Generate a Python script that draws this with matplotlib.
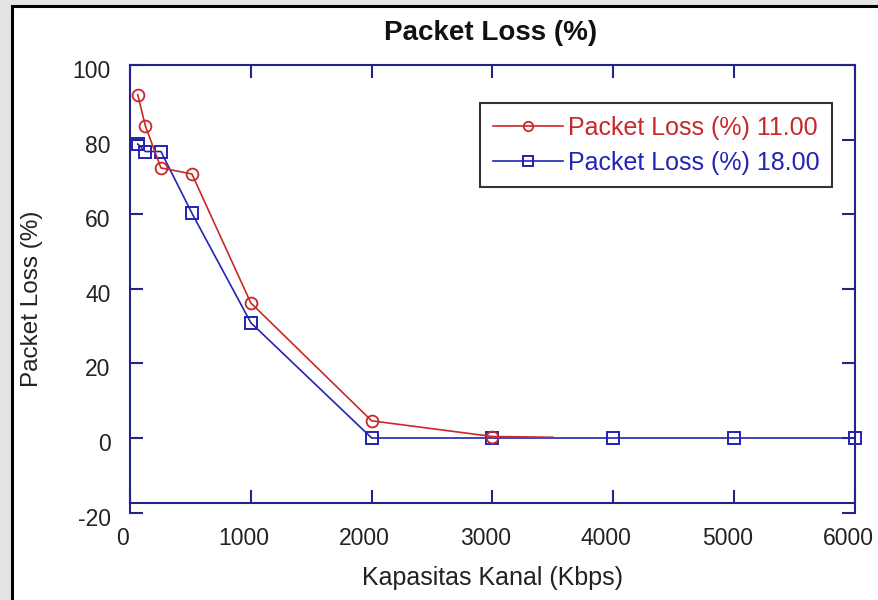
import matplotlib
matplotlib.use("Agg")
import matplotlib.pyplot as plt
from matplotlib.patches import Rectangle
from matplotlib.transforms import ScaledTranslation

plt.rcParams['font.family'] = ['Liberation Sans', 'DejaVu Sans']
plt.rcParams['axes.unicode_minus'] = False

# data
kbps_11 = [64, 128, 256, 512, 1000, 2000, 3000, 3500]
loss_11 = [92.0, 83.6, 72.4, 70.8, 36.2, 4.6, 0.4, 0.2]
kbps_18 = [64, 128, 256, 512, 1000, 2000, 3000, 4000, 5000, 6000]
loss_18 = [78.8, 76.8, 76.8, 60.3, 30.9, 0.0, 0.0, 0.0, 0.0, 0.0]
x_ticks = [0, 1000, 2000, 3000, 4000, 5000, 6000]
y_ticks = [-20, 0, 20, 40, 60, 80, 100]

navy = '#23238c'
red = '#c82828'
blue = '#2323b4'

fig = plt.figure(figsize=(8.79, 6.0), dpi=100)
fig.patch.set_facecolor('#e4e4e4')
fig.patches.append(Rectangle((12 / 879, -0.1), 1.2, 1.1 - 6 / 600,
                             transform=fig.transFigure, facecolor='white',
                             edgecolor='black', lw=2.2, zorder=-5))

ax = fig.add_axes([130 / 879, (600 - 512.6) / 600, 725 / 879, 447.6 / 600])
ax.set_facecolor('white')

ax.plot(kbps_11, loss_11, color=red, lw=1.2, marker='o', ms=8.5,
        mfc='none', mec=red, mew=1.3, markevery=list(range(7)),
        label='Packet Loss (%) 11.00', clip_on=False, zorder=3)
ax.plot(kbps_18, loss_18, color=blue, lw=1.2, marker='s', ms=8.5,
        mfc='none', mec=blue, mew=1.4,
        label='Packet Loss (%) 18.00', clip_on=False, zorder=2)

ax.set_xlim(0, 6000)
ax.set_ylim(-20, 100)
ax.set_xticks(x_ticks)
ax.set_yticks(y_ticks)

for s in ax.spines.values():
    s.set_color(navy)
    s.set_linewidth(1.5)
ax.spines['bottom'].set_position(('data', -17.4))

ax.tick_params(axis='both', direction='in', length=9.5, width=1.5, color=navy,
               labelsize=16.5, labelcolor='#222222', top=True, right=True)
ax.tick_params(axis='x', pad=17)
ax.tick_params(axis='y', pad=14)

for lbl in ax.get_xticklabels():
    lbl.set_transform(lbl.get_transform() + ScaledTranslation(-0.07, 0, fig.dpi_scale_trans))
for lbl in ax.get_yticklabels():
    lbl.set_transform(lbl.get_transform() + ScaledTranslation(0, -0.04, fig.dpi_scale_trans))

ax.set_xlabel('Kapasitas Kanal (Kbps)', fontsize=18, color='#222222')
ax.xaxis.label.set_va('center')
ax.xaxis.set_label_coords(0.5, -0.146)
ax.set_ylabel('Packet Loss (%)', fontsize=17.5, color='#222222')
ax.yaxis.label.set_va('center')
ax.yaxis.set_label_coords(-0.135, 0.478)

fig.text(491 / 879, 1 - 33 / 600, 'Packet Loss (%)', fontsize=20,
         fontweight='bold', color='#111111', ha='center', va='center')

leg = ax.legend(loc='upper left', bbox_to_anchor=(0.4828, 0.915),
                borderaxespad=0, fontsize=18, frameon=True, fancybox=False,
                edgecolor='black', handlelength=2.8, handletextpad=0.2,
                labelspacing=0.45, borderpad=0.5, markerscale=0.8)
leg.get_frame().set_linewidth(1.5)
for txt, c in zip(leg.get_texts(), [red, blue]):
    txt.set_color(c)

fig.savefig('out.png', dpi=100, facecolor=fig.get_facecolor())
